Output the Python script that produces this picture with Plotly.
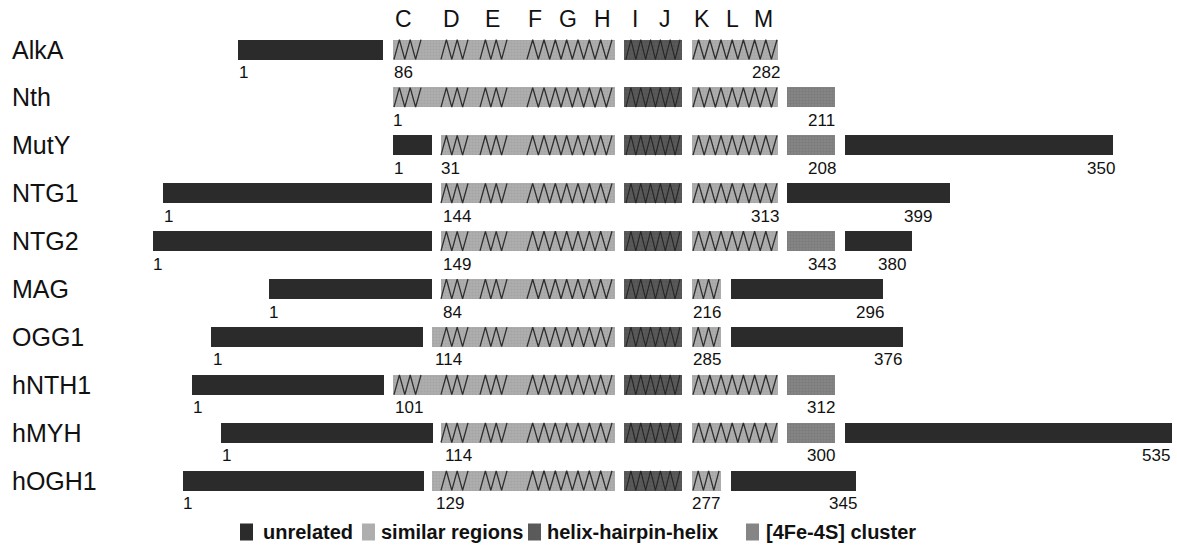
import plotly.graph_objects as go

# ---------------- data (diagram units along the schematic axis) ----------------
proteins = ["AlkA", "Nth", "MutY", "NTG1", "NTG2", "MAG", "OGG1", "hNTH1", "hMYH", "hOGH1"]

motif_letters = ["C", "D", "E", "F", "G", "H", "I", "J", "K", "L", "M"]
motif_pos = [403, 451, 492, 535, 568, 602, 635, 665, 702, 732, 763]

unrelated = [("AlkA", 238, 383), ("MutY", 393, 432), ("MutY", 845, 1113),
             ("NTG1", 163, 432), ("NTG1", 787, 950), ("NTG2", 153, 432), ("NTG2", 845, 912),
             ("MAG", 269, 432), ("MAG", 731, 883), ("OGG1", 211, 423), ("OGG1", 731, 903),
             ("hNTH1", 192, 384), ("hMYH", 221, 433), ("hMYH", 845, 1172),
             ("hOGH1", 183, 424), ("hOGH1", 731, 856)]

similar = [("AlkA", 393, 615), ("AlkA", 692, 778), ("Nth", 393, 615), ("Nth", 692, 778),
           ("MutY", 441, 615), ("MutY", 692, 778), ("NTG1", 441, 615), ("NTG1", 692, 778),
           ("NTG2", 441, 615), ("NTG2", 692, 778), ("MAG", 441, 615), ("MAG", 692, 721),
           ("OGG1", 432, 615), ("OGG1", 692, 721), ("hNTH1", 393, 615), ("hNTH1", 692, 778),
           ("hMYH", 441, 615), ("hMYH", 692, 778), ("hOGH1", 432, 615), ("hOGH1", 692, 721)]

hhh = [("AlkA", 624, 682), ("Nth", 624, 682), ("MutY", 624, 682), ("NTG1", 624, 682),
       ("NTG2", 624, 682), ("MAG", 624, 682), ("OGG1", 624, 682), ("hNTH1", 624, 682),
       ("hMYH", 624, 682), ("hOGH1", 624, 682)]

fes = [("Nth", 787, 835), ("MutY", 787, 835), ("NTG2", 787, 835),
       ("hNTH1", 787, 835), ("hMYH", 787, 835)]

# helices drawn as zigzags inside the similar / HhH regions
helices_long = ["AlkA", "Nth", "MutY", "NTG1", "NTG2", "hNTH1", "hMYH"]   # K-L-M present
helices_c = ["AlkA", "Nth", "hNTH1"]                                       # helix C present
helix_c = (394, 421)
helix_d = (441, 468)
helix_e = (480, 507)
helix_fgh = (527, 612)
helix_ij = (626, 680)
helix_klm = (693, 777)
helix_k = (693, 719)

residue_labels = [
    ("AlkA", "1", 243), ("AlkA", "86", 403), ("AlkA", "282", 766),
    ("Nth", "1", 397), ("Nth", "211", 821),
    ("MutY", "1", 398), ("MutY", "31", 450), ("MutY", "208", 822), ("MutY", "350", 1101),
    ("NTG1", "1", 168), ("NTG1", "144", 457), ("NTG1", "313", 765), ("NTG1", "399", 918),
    ("NTG2", "1", 157), ("NTG2", "149", 457), ("NTG2", "343", 822), ("NTG2", "380", 892),
    ("MAG", "1", 273), ("MAG", "84", 452), ("MAG", "216", 707), ("MAG", "296", 870),
    ("OGG1", "1", 217), ("OGG1", "114", 448), ("OGG1", "285", 707), ("OGG1", "376", 888),
    ("hNTH1", "1", 197), ("hNTH1", "101", 409), ("hNTH1", "312", 821),
    ("hMYH", "1", 226), ("hMYH", "114", 458), ("hMYH", "300", 821), ("hMYH", "535", 1156),
    ("hOGH1", "1", 187), ("hOGH1", "129", 450), ("hOGH1", "277", 706), ("hOGH1", "345", 843),
]

legend_names = ["unrelated", "similar regions", "helix-hairpin-helix", "[4Fe-4S] cluster"]

# ---------------- styling / layout constants ----------------
W, H = 1177, 552
ROW0, ROWSTEP = 49.5, 47.9
BAR_PX = 20
bar_w = BAR_PX / ROWSTEP
y_top = -ROW0 / ROWSTEP
y_bot = (H - ROW0) / ROWSTEP

C_UNREL = "#2b2b2b"
C_SIM = "#aeaeae"
C_HHH = "#5a5a5a"
C_FES = "#858585"

idx = {p: i for i, p in enumerate(proteins)}

fig = go.Figure()


def add_bars(segs, color, name, pattern=None):
    ys = [idx[s[0]] for s in segs]
    base = [s[1] for s in segs]
    length = [s[2] - s[1] for s in segs]
    marker = dict(color=color, line=dict(width=0))
    if pattern:
        marker["pattern"] = pattern
    fig.add_trace(go.Bar(orientation="h", y=ys, x=length, base=base, width=bar_w,
                         marker=marker, name=name, showlegend=False, hoverinfo="skip"))


add_bars(unrelated, C_UNREL, legend_names[0])
add_bars(similar, C_SIM, legend_names[1],
         dict(shape=".", fgcolor="#989898", bgcolor=C_SIM, size=3, solidity=0.35))
add_bars(hhh, C_HHH, legend_names[2],
         dict(shape="+", fgcolor="#444444", bgcolor=C_HHH, size=4, solidity=0.25))
add_bars(fes, C_FES, legend_names[3],
         dict(shape="+", fgcolor="#6a6a6a", bgcolor=C_FES, size=3, solidity=0.3))


def zig(x0, x1, yc, step=5.8):
    n = max(3, round((x1 - x0) / step))
    if n % 2 == 0:
        n += 1
    xs, ys = [], []
    h = bar_w / 2 * 0.98
    for k in range(n + 1):
        xs.append(x0 + (x1 - x0) * k / n)
        ys.append(yc + h if k % 2 == 0 else yc - h)
    return xs, ys


zx, zy, hx, hy = [], [], [], []
for p in proteins:
    yc = idx[p]
    rngs = []
    if p in helices_c:
        rngs.append(helix_c)
    rngs += [helix_d, helix_e, helix_fgh]
    rngs.append(helix_klm if p in helices_long else helix_k)
    for a, b in rngs:
        xs, ys = zig(a, b, yc)
        zx += xs + [None]
        zy += ys + [None]
    xs, ys = zig(helix_ij[0], helix_ij[1], yc, step=5.0)
    hx += xs + [None]
    hy += ys + [None]

fig.add_trace(go.Scatter(x=zx, y=zy, mode="lines", line=dict(color="#2e2e2e", width=1.3),
                         showlegend=False, hoverinfo="skip"))
fig.add_trace(go.Scatter(x=hx, y=hy, mode="lines", line=dict(color="#262626", width=1.1),
                         showlegend=False, hoverinfo="skip"))

annotations = []
FONT = "Liberation Sans, Arial, sans-serif"
for p in proteins:
    annotations.append(dict(x=10, y=idx[p], xref="x", yref="y", text=p, showarrow=False,
                            xanchor="left", yanchor="middle",
                            font=dict(family=FONT, size=25, color="#111")))
for letter, xp in zip(motif_letters, motif_pos):
    annotations.append(dict(x=xp, y=0, xref="x", yref="y", yshift=31, text=letter,
                            showarrow=False, xanchor="center", yanchor="middle",
                            font=dict(family=FONT, size=23, color="#111")))
for p, t, xp in residue_labels:
    annotations.append(dict(x=xp, y=idx[p], xref="x", yref="y", yshift=-23, text=t,
                            showarrow=False, xanchor="center", yanchor="middle",
                            font=dict(family=FONT, size=17, color="#111")))

# legend (manual)
leg_sq = [240, 362, 528, 746]
leg_tx = [261, 379, 545, 764]
leg_col = [C_UNREL, C_SIM, C_HHH, C_FES]
leg_y = (532 - ROW0) / ROWSTEP
shapes = []
for sx, tx, col, nm in zip(leg_sq, leg_tx, leg_col, legend_names):
    shapes.append(dict(type="rect", xref="x", yref="y", x0=sx, x1=sx + 13,
                       y0=leg_y - 8.5 / ROWSTEP, y1=leg_y + 8.5 / ROWSTEP,
                       fillcolor=col, line=dict(width=0)))
    annotations.append(dict(x=tx, y=leg_y, xref="x", yref="y", text="<b>%s</b>" % nm,
                            showarrow=False, xanchor="left", yanchor="middle",
                            font=dict(family=FONT, size=20, color="#111")))

fig.update_layout(
    width=W, height=H, margin=dict(l=0, r=0, t=0, b=0),
    paper_bgcolor="white", plot_bgcolor="white",
    barmode="overlay", bargap=0,
    xaxis=dict(range=[0, W], visible=False, fixedrange=True),
    yaxis=dict(range=[y_bot, y_top], visible=False, fixedrange=True),
    annotations=annotations, shapes=shapes, showlegend=False,
)

fig.write_html("out.html", config={"displayModeBar": False},
               post_script="document.body.style.margin='0';document.body.style.overflow='hidden';")
